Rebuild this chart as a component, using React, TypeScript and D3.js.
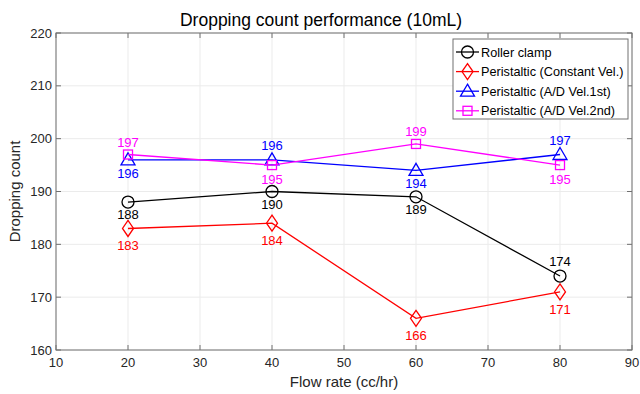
import React from "react";
import * as d3 from "d3";

const flowRates = [20, 40, 60, 80];
const rollerClamp = [188, 190, 189, 174];
const constantVel = [183, 184, 166, 171];
const adVel1st = [196, 196, 194, 197];
const adVel2nd = [197, 195, 199, 195];
const seriesNames = [
  "Roller clamp",
  "Peristaltic (Constant Vel.)",
  "Peristaltic (A/D Vel.1st)",
  "Peristaltic (A/D Vel.2nd)",
];
const labelPos = [
  ["below", "below", "below", "above"],
  ["below", "below", "below", "below"],
  ["below", "above", "below", "above"],
  ["above", "below", "above", "below"],
];
const xTicks = [10, 20, 30, 40, 50, 60, 70, 80, 90];
const yTicks = [160, 170, 180, 190, 200, 210, 220];

const W = 640, H = 394;
const L = 56, R = 632, T = 33, B = 350;
const font = "'Liberation Sans', Arial, sans-serif";

const x = d3.scaleLinear().domain([10, 90]).range([L, R]);
const y = d3.scaleLinear().domain([160, 220]).range([B, T]);

const colors = ["#000000", "#ff0000", "#0000ff", "#ff00ff"];
const markers = ["circle", "diamond", "triangle", "square"];
const belowOff = [17, 22, 18, 19];
const aboveOff = [10, 11, 10, 8];
const allData = [rollerClamp, constantVel, adVel1st, adVel2nd];

function Marker({ type, cx, cy, color }: { type: string; cx: number; cy: number; color: string }) {
  const sw = 1.3;
  if (type === "circle") return <circle cx={cx} cy={cy} r={6} fill="none" stroke={color} strokeWidth={sw} />;
  if (type === "diamond")
    return <path d={`M${cx},${cy - 8}L${cx + 5.5},${cy}L${cx},${cy + 8}L${cx - 5.5},${cy}Z`} fill="none" stroke={color} strokeWidth={sw} />;
  if (type === "triangle")
    return <path d={`M${cx},${cy - 7}L${cx + 7},${cy + 5}L${cx - 7},${cy + 5}Z`} fill="none" stroke={color} strokeWidth={sw} />;
  return <rect x={cx - 4.5} y={cy - 4.5} width={9} height={9} fill="none" stroke={color} strokeWidth={sw} />;
}

export default function App() {
  const line = d3.line<number>().x((_, i) => x(flowRates[i])).y((d) => y(d));
  return (
    <svg width={W} height={H} style={{ position: "absolute", left: 0, top: 0 }} fontFamily={font}>
      <rect x={0} y={0} width={W} height={H} fill="#fff" />
      {xTicks.map((t) => (
        <line key={"gx" + t} x1={x(t)} x2={x(t)} y1={T} y2={B} stroke="#ebebeb" strokeWidth={1} />
      ))}
      {yTicks.map((t) => (
        <line key={"gy" + t} x1={L} x2={R} y1={y(t)} y2={y(t)} stroke="#ebebeb" strokeWidth={1} />
      ))}
      {xTicks.map((t) => (
        <g key={"tx" + t}>
          <line x1={x(t)} x2={x(t)} y1={B} y2={B - 5} stroke="#707070" />
          <line x1={x(t)} x2={x(t)} y1={T} y2={T + 5} stroke="#707070" />
          <text x={x(t)} y={B + 17} textAnchor="middle" fontSize={13} fill="#262626">{t}</text>
        </g>
      ))}
      {yTicks.map((t) => (
        <g key={"ty" + t}>
          <line x1={L} x2={L + 5} y1={y(t)} y2={y(t)} stroke="#707070" />
          <line x1={R} x2={R - 5} y1={y(t)} y2={y(t)} stroke="#707070" />
          <text x={L - 4} y={y(t) + 4.5} textAnchor="end" fontSize={13} fill="#262626">{t}</text>
        </g>
      ))}
      <rect x={L} y={T} width={R - L} height={B - T} fill="none" stroke="#707070" strokeWidth={1} />
      {allData.map((data, si) => (
        <g key={"s" + si}>
          <path d={line(data) || ""} fill="none" stroke={colors[si]} strokeWidth={1.3} />
          {data.map((v, i) => (
            <Marker key={i} type={markers[si]} cx={x(flowRates[i])} cy={y(v)} color={colors[si]} />
          ))}
          {data.map((v, i) => {
            const above = labelPos[si][i] === "above";
            return (
              <text key={"l" + i} x={x(flowRates[i])} y={above ? y(v) - aboveOff[si] : y(v) + belowOff[si]} textAnchor="middle" fontSize={13} fill={colors[si]}>
                {v}
              </text>
            );
          })}
        </g>
      ))}
      <text x={321} y={26} textAnchor="middle" fontSize={17.5} fill="#000">Dropping count performance (10mL)</text>
      <text x={(L + R) / 2} y={387} textAnchor="middle" fontSize={15} fill="#262626">Flow rate (cc/hr)</text>
      <text transform={`translate(20,${(T + B) / 2}) rotate(-90)`} textAnchor="middle" fontSize={15} fill="#262626">Dropping count</text>
      <rect x={453} y={39} width={175} height={80} fill="#fff" stroke="#707070" strokeWidth={1} />
      {seriesNames.map((n, i) => {
        const ly = 52 + i * 19.6;
        return (
          <g key={"lg" + i}>
            <line x1={456} x2={479} y1={ly} y2={ly} stroke={colors[i]} strokeWidth={1.3} />
            <Marker type={markers[i]} cx={467.5} cy={ly} color={colors[i]} />
            <text x={481} y={ly + 4.5} fontSize={12.7} fill="#000">{n}</text>
          </g>
        );
      })}
    </svg>
  );
}
